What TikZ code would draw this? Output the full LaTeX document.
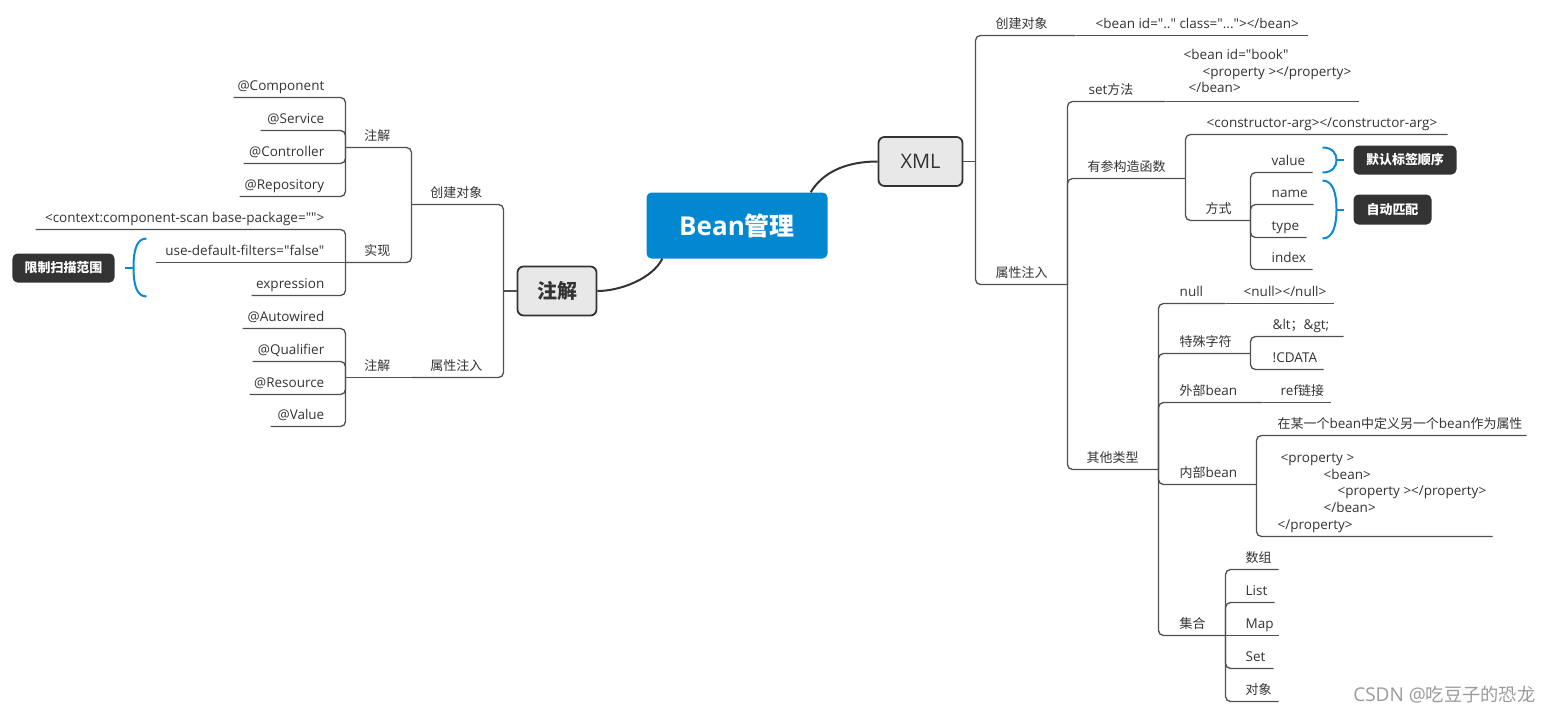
\documentclass[tikz,border=0pt]{standalone}
\usepackage{fontspec}
\setmainfont[Ligatures=TeXOff]{Open Sans}
\newfontfamily\zhfont[Scale=0.96]{Noto Sans CJK SC}
\newcommand\zh[1]{{\zhfont #1}}
\definecolor{linec}{HTML}{505050}
\definecolor{txtc}{HTML}{333333}
\definecolor{beanblue}{HTML}{0288D1}
\definecolor{boxgray}{HTML}{E8E8E8}
\definecolor{darkbox}{HTML}{333333}
\definecolor{bracec}{HTML}{0A8AD6}
\definecolor{wmc}{HTML}{9A9A9A}
% topic: name, near x, far x, line y, text x, text
\newcommand\tpR[6]{%
  \coordinate (#1-a) at (#2,#4);
  \coordinate (#1-b) at (#3,#4);
  \node[tx,anchor=base west] (#1) at (#5,#4-7.5) {#6};}
\newcommand\tpL[6]{%
  \coordinate (#1-a) at (#2,#4);
  \coordinate (#1-b) at (#3,#4);
  \node[tx,anchor=base east] (#1) at (#5,#4-7.5) {#6};}
\newcommand\cn[2]{\draw[ln] (#1-b) |- (#2-b);}
\newcommand\cs[2]{\draw[ln] (#1-b) -- (#2-b);}
\begin{document}
\begin{tikzpicture}[x=1pt,y=-1pt,
  ln/.style={draw=linec, line width=1.3pt, rounded corners=5pt},
  tx/.style={inner sep=0pt, text=txtc, font=\fontsize{13.5}{16.7}\selectfont},
  mainbox/.style={fill=boxgray, draw=darkbox, line width=1.8pt, rounded corners=6pt, inner sep=0pt, text=txtc},
  darklbl/.style={fill=darkbox, rounded corners=5pt, inner sep=0pt, text=white, font=\bfseries\fontsize{13.5}{16}\selectfont},
  curve/.style={draw=darkbox, line width=2pt},
  bracel/.style={draw=bracec, line width=2pt}]
\useasboundingbox (-0.5,-0.5) rectangle (1550.5,712.5);

% central and main topics
\node[fill=beanblue, rounded corners=5pt, minimum width=181pt, minimum height=66pt, inner sep=0pt,
      text=white, font=\bfseries\fontsize{26}{30}\selectfont] (bean) at (736.5,225) {Bean\zh{管理}};
\node[mainbox, minimum width=79pt, minimum height=49pt, font=\bfseries\fontsize{20.8}{24}\selectfont] (main) at (556.5,290.5) {\zh{注解}};
\node[mainbox, minimum width=84pt, minimum height=49pt, font=\fontsize{20}{24}\selectfont] (xml) at (920,161) {XML};

\draw[curve] ([xshift=16pt]bean.south west) .. controls (652,278) and (620,290.5) .. (main.east);
\draw[curve] ([xshift=-17pt]bean.north east) .. controls (822,172) and (845,161) .. (xml.west);

\coordinate (lj-b) at (503,290.5);
\coordinate (xmlj-b) at (975,161);
\draw[ln] (main.west) -- (lj-b);
\draw[ln] (xml.east) -- (xmlj-b);

% ---------- left side ----------
\tpL{lcj}{503}{411}{204}{482}{\zh{创建对象}}
\tpL{lzja}{411}{345}{147}{390}{\zh{注解}}
\tpL{comp}{345}{233}{97}{324}{@Component}
\tpL{serv}{345}{260}{130}{324}{@Service}
\tpL{ctrl}{345}{243}{163}{324}{@Controller}
\tpL{repo}{345}{239}{196}{324}{@Repository}
\tpL{sx}{411}{345}{262}{390}{\zh{实现}}
\tpL{ctx}{345}{35}{229}{324}{<context:component-scan base-package="">}
\tpL{udf}{345}{155}{262}{324}{use-default-filters="false"}
\tpL{expr}{345}{251}{295}{324}{expression}
\tpL{lsx}{503}{411}{377}{482}{\zh{属性注入}}
\tpL{lzjb}{411}{345}{377}{390}{\zh{注解}}
\tpL{auto}{345}{242}{328}{324}{@Autowired}
\tpL{qual}{345}{252}{361}{324}{@Qualifier}
\tpL{res}{345}{249}{394}{324}{@Resource}
\tpL{valu}{345}{270}{426}{324}{@Value}

\cn{lj}{lcj} \cn{lj}{lsx}
\cn{lcj}{lzja} \cn{lcj}{sx}
\cn{lzja}{comp} \cn{lzja}{serv} \cn{lzja}{ctrl} \cn{lzja}{repo}
\cn{sx}{ctx} \cs{sx}{udf} \cn{sx}{expr}
\cs{lsx}{lzjb}
\cn{lzjb}{auto} \cn{lzjb}{qual} \cn{lzjb}{res} \cn{lzjb}{valu}

\node[darklbl, minimum width=102pt, minimum height=29pt] (lim) at (63,267.5) {\zh{限制扫描范围}};
\coordinate (limt) at (124,267);
\draw[bracel] (146,238) .. controls (136,238) and (133,250) .. (133,267)
              .. controls (133,284) and (136,296) .. (146,296);
\draw[bracel] (133,267) -- (limt);

% ---------- right side ----------
\tpR{rcj}{975}{1075}{35}{995}{\zh{创建对象}}
\tpR{rcjc}{1075}{1307}{35}{1095}{<bean id=".." class="..."></bean>}
\tpR{rsx}{975}{1067}{284}{995}{\zh{属性注入}}
\tpR{set}{1067}{1165}{101}{1088}{set\zh{方法}}
\coordinate (setc-a) at (1165,101);
\coordinate (setc-b) at (1358,101);
\node[tx,anchor=base west] (setc) at (1183,59)
  {\vtop{\hbox{<bean id="book"}\hbox{\kern19pt<property ></property>}\hbox{\kern5pt</bean>}}};
\tpR{ycs}{1067}{1185}{178}{1087}{\zh{有参构造函数}}
\tpR{carg}{1185}{1447}{134}{1206}{<constructor-arg></constructor-arg>}
\tpR{fs}{1185}{1250}{220}{1205}{\zh{方式}}
\tpR{val}{1250}{1312}{172}{1271}{value}
\tpR{nam}{1250}{1313}{204}{1271}{name}
\tpR{typ}{1250}{1306}{237}{1271}{type}
\tpR{idx}{1250}{1312}{269}{1271}{index}
\tpR{qt}{1067}{1158}{469}{1086}{\zh{其他类型}}
\tpR{nul}{1158}{1225}{303}{1179}{null}
\tpR{nulc}{1225}{1333}{303}{1243}{<null></null>}
\tpR{tszf}{1158}{1250}{353}{1179}{\zh{特殊字符}}
\tpR{lt}{1250}{1343}{336}{1272}{\&lt\zh{；}\&gt;}
\tpR{cdata}{1250}{1323}{369}{1272}{!CDATA}
\tpR{wb}{1158}{1262}{402}{1179}{\zh{外部}bean}
\tpR{ref}{1262}{1330}{402}{1280}{ref\zh{链接}}
\tpR{nb}{1158}{1256}{484}{1179}{\zh{内部}bean}
\tpR{nbc1}{1256}{1526}{435}{1277}{\zh{在某一个}bean\zh{中定义另一个}bean\zh{作为属性}}
\coordinate (nbc2-a) at (1256,536);
\coordinate (nbc2-b) at (1492,536);
\node[tx,anchor=base west] (nbc2) at (1277,462)
  {\vtop{\hbox{\kern3pt<property >}\hbox{\kern46pt<bean>}\hbox{\kern60pt<property ></property>}\hbox{\kern46pt</bean>}\hbox{</property>}}};
\tpR{jh}{1158}{1225}{635}{1179}{\zh{集合}}
\tpR{sz}{1225}{1278}{569}{1245}{\zh{数组}}
\tpR{lst}{1225}{1274}{602}{1245}{List}
\tpR{map}{1225}{1278}{635}{1245}{Map}
\tpR{st}{1225}{1273}{668}{1245}{Set}
\tpR{dx}{1225}{1278}{701}{1245}{\zh{对象}}

\cn{xmlj}{rcj} \cn{xmlj}{rsx}
\cs{rcj}{rcjc}
\cn{rsx}{set} \cn{rsx}{ycs} \cn{rsx}{qt}
\cs{set}{setc}
\cn{ycs}{carg} \cn{ycs}{fs}
\cn{fs}{val} \cn{fs}{nam} \cn{fs}{typ} \cn{fs}{idx}
\cn{qt}{nul} \cn{qt}{tszf} \cn{qt}{wb} \cn{qt}{nb} \cn{qt}{jh}
\cs{nul}{nulc}
\cn{tszf}{lt} \cn{tszf}{cdata}
\cs{wb}{ref}
\cn{nb}{nbc1} \cn{nb}{nbc2}
\cn{jh}{sz} \cn{jh}{lst} \cs{jh}{map} \cn{jh}{st} \cn{jh}{dx}

% summaries
\node[darklbl, minimum width=103pt, minimum height=29pt] (mrb) at (1404.5,159.5) {\zh{默认标签顺序}};
\node[darklbl, minimum width=78pt, minimum height=30pt] (zdpp) at (1392,209) {\zh{自动匹配}};
\coordinate (mrbt) at (1343,159.5);
\coordinate (zdppt) at (1343,209);
\draw[bracel] (1322,147) .. controls (1332,147) and (1336,153) .. (1336,159.5)
              .. controls (1336,166) and (1332,172) .. (1322,172);
\draw[bracel] (1336,159.5) -- (mrbt);
\draw[bracel] (1322,180) .. controls (1332,180) and (1336,192) .. (1336,209)
              .. controls (1336,226) and (1332,238) .. (1322,238);
\draw[bracel] (1336,209) -- (zdppt);

% watermark
\node[anchor=east, inner sep=0pt, text=wmc, font=\fontsize{19}{22}\selectfont] (wm) at (1535,694) {CSDN @\zh{吃豆子的恐龙}};
\end{tikzpicture}
\end{document}
